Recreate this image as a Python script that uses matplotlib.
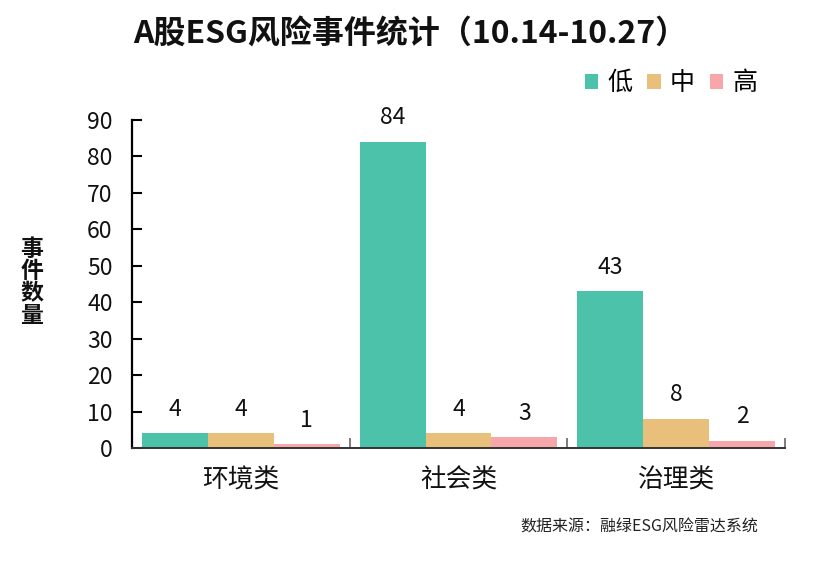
import matplotlib
matplotlib.use("Agg")
import matplotlib.pyplot as plt
import numpy as np
from matplotlib.patches import Patch

plt.rcParams['font.family'] = ['Noto Sans CJK SC', 'DejaVu Sans']

categories = ["环境类", "社会类", "治理类"]
series_names = ["低", "中", "高"]
low = [4, 84, 43]
mid = [4, 4, 8]
high = [1, 3, 2]
colors = ["#4BC2A9", "#E8C07C", "#F7A6A9"]
title = "A股ESG风险事件统计（10.14-10.27）"
ylabel = "事件数量"
source = "数据来源：融绿ESG风险雷达系统"
yticks = [0, 10, 20, 30, 40, 50, 60, 70, 80, 90]

fig = plt.figure(figsize=(8.31, 5.78), dpi=100)
ax = fig.add_axes([132/831, 1-448/578, (785-132)/831, (448-120)/578])

x = np.arange(len(categories))
w = 0.303
for i, (vals, c) in enumerate(zip([low, mid, high], colors)):
    pos = x + (i - 1) * w
    ax.bar(pos, vals, width=w, color=c, edgecolor='none', zorder=2)
    for p, v in zip(pos, vals):
        ax.annotate(str(v), (p, v), xytext=(0, 9), textcoords='offset points',
                    ha='center', va='bottom', fontsize=16.5, color='#111111')

ax.set_xlim(-0.5, 2.5)
ax.set_ylim(0, 90)
ax.set_yticks(yticks)
ax.set_yticklabels([str(t) for t in yticks], fontsize=16.5, color='#111111')
ax.set_xticks(x)
ax.set_xticklabels(categories, fontsize=18.5, color='#111111')
ax.tick_params(axis='x', which='major', length=0, pad=14)
ax.set_xticks([0.5, 1.5, 2.5], minor=True)
ax.tick_params(axis='x', which='minor', direction='in', length=7, color='#666666', width=1.2)
ax.tick_params(axis='y', direction='in', length=7, width=1.5, pad=14, color='black')

for s in ['top', 'right']:
    ax.spines[s].set_visible(False)
ax.spines['left'].set_linewidth(1.6)
ax.spines['left'].set_color('black')
ax.spines['bottom'].set_linewidth(1.4)
ax.spines['bottom'].set_color('#333333')

fig.text(410/831, 1-35/578, title, ha='center', va='center', fontsize=23, fontweight='bold', color='#111111')
fig.text(32/831, 1-283/578, "\n".join(ylabel), ha='center', va='center', fontsize=16.5,
         fontweight='bold', linespacing=0.95, color='#111111')
fig.text(758/831, 1-527/578, source, ha='right', va='center', fontsize=11.5, style='italic', color='#222222')

handles = [Patch(facecolor=c, edgecolor='none') for c in colors]
fig.legend(handles, series_names, loc='center right', bbox_to_anchor=(757/831, 1-83/578),
           ncol=3, frameon=False, fontsize=18, handlelength=0.55, handleheight=0.55,
           handletextpad=0.35, columnspacing=0.6, borderaxespad=0, borderpad=0)

fig.savefig("out.png", dpi=100)
